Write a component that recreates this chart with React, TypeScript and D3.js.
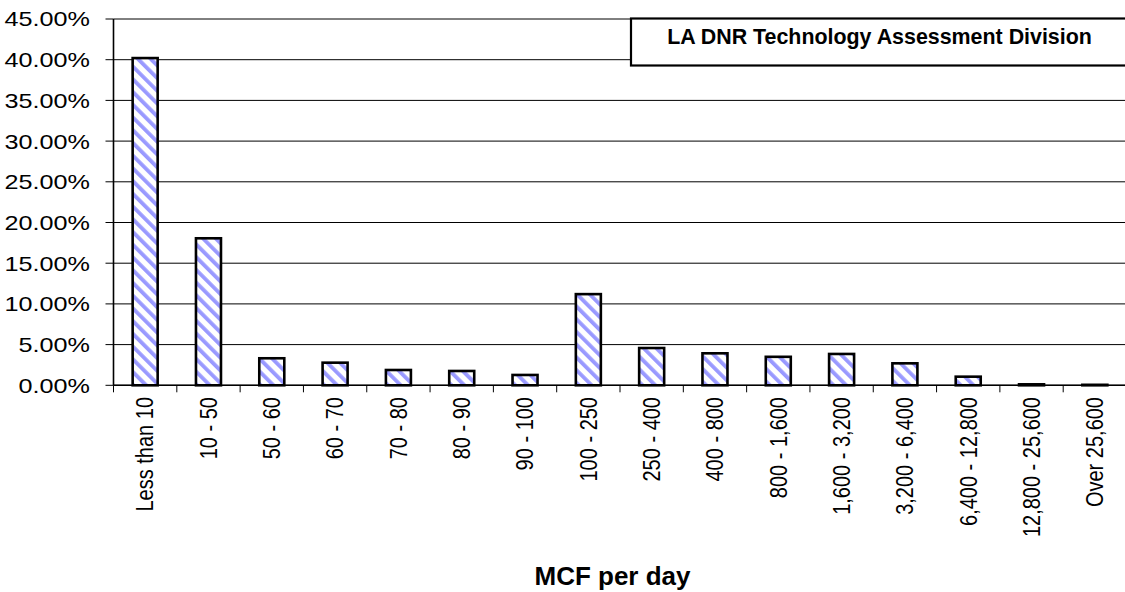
import React from "react";
import * as d3 from "d3";

const categories = [
  "Less than 10", "10 - 50", "50 - 60", "60 - 70", "70 - 80", "80 - 90", "90 - 100",
  "100 - 250", "250 - 400", "400 - 800", "800 - 1,600", "1,600 - 3,200",
  "3,200 - 6,400", "6,400 - 12,800", "12,800 - 25,600", "Over 25,600",
];
const values = [40.2, 18.06, 3.32, 2.78, 1.88, 1.76, 1.27, 11.2, 4.58, 3.93, 3.5, 3.85, 2.7, 1.06, 0.12, 0.06];
const yTicks = [0, 5, 10, 15, 20, 25, 30, 35, 40, 45];
const xTitle = "MCF per day";
const boxTitle = "LA DNR Technology Assessment Division";

const W = 1125, H = 592;
const left = 113.5, right = 1126.5, top = 19, bottom = 385.3;
const FONT = "'Liberation Sans', Arial, Helvetica, sans-serif";

export default function App() {
  const x = d3.scaleBand<string>().domain(categories).range([left, right]).paddingInner(0).paddingOuter(0);
  const y = d3.scaleLinear().domain([0, 45]).range([bottom, top]);
  const bw = x.bandwidth();
  const barW = bw * 0.395;
  const fmt = (v: number) => d3.format(".2f")(v) + "%";

  return (
    <svg width={W} height={H} style={{ position: "absolute", left: 0, top: 0, background: "#fff" }}
      fontFamily={FONT}>
      <defs>
        <pattern id="hatch" patternUnits="userSpaceOnUse" width={9} height={9} patternTransform="rotate(-45)">
          <rect x={0} y={0} width={9} height={9} fill="#fff" />
          <rect x={0} y={0} width={3.8} height={9} fill="#9999ff" />
        </pattern>
      </defs>
      {yTicks.map((t) => (
        <line key={"g" + t} x1={left} x2={W} y1={y(t)} y2={y(t)} stroke="#000" strokeWidth={1} />
      ))}
      {yTicks.map((t) => (
        <g key={"t" + t}>
          <line x1={left - 8} x2={left} y1={y(t)} y2={y(t)} stroke="#000" strokeWidth={1} />
          <text x={90} y={y(t) + 7.5} textAnchor="end" fontSize={20}
            transform={`translate(90,0) scale(1.26,1) translate(-90,0)`} fill="#000">
            {fmt(t)}
          </text>
        </g>
      ))}
      {categories.map((c) => (
        <line key={"xt" + c} x1={x(c)!} x2={x(c)!} y1={bottom} y2={bottom + 7} stroke="#000" strokeWidth={1} />
      ))}
      {categories.map((c, i) => {
        const cx = x(c)! + bw / 2;
        return (
          <rect key={"b" + c} x={cx - barW / 2} y={y(values[i])} width={barW}
            height={Math.max(0, bottom - y(values[i]))} fill="url(#hatch)" stroke="#000" strokeWidth={2.6} />
        );
      })}
      <line x1={left} x2={left} y1={top} y2={bottom} stroke="#000" strokeWidth={1.6} />
      <line x1={left} x2={W} y1={bottom} y2={bottom} stroke="#000" strokeWidth={1.6} />
      {categories.map((c) => {
        const cx = x(c)! + bw / 2;
        return (
          <text key={"xl" + c} transform={`translate(${cx + 8.3},397) rotate(-90) scale(1,1.15)`} textAnchor="end"
            fontSize={20} fill="#000">
            {c}
          </text>
        );
      })}
      <text x={612.5} y={585} textAnchor="middle" fontSize={26} fontWeight="bold" fill="#000">{xTitle}</text>
      <rect x={631} y={18.5} width={500} height={47} fill="#fff" stroke="#000" strokeWidth={2.2} />
      <text x={879.5} y={44} textAnchor="middle" fontSize={21.4} fontWeight="bold" fill="#000">{boxTitle}</text>
    </svg>
  );
}
